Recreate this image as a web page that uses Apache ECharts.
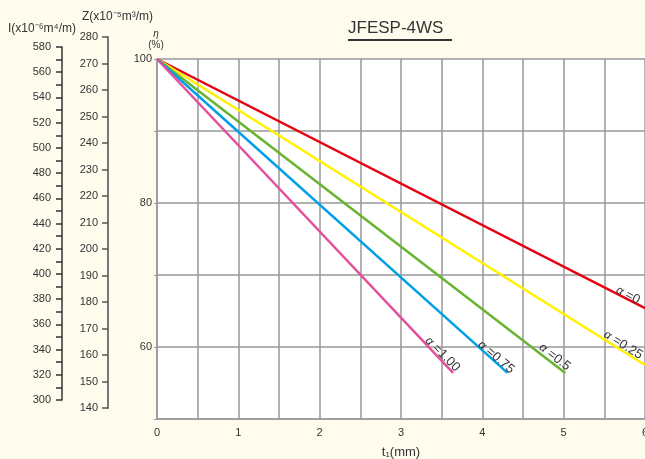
<!DOCTYPE html>
<html>
<head>
<meta charset="utf-8">
<script src="https://cdn.jsdelivr.net/npm/echarts@6/dist/echarts.min.js"></script>
<style>
  html, body { margin: 0; padding: 0; background: #fffcee; }
  #chart { width: 645px; height: 459px; }
</style>
</head>
<body>
<div id="chart"></div>
<script>
// 曲线数据 (t1 -> eta)
var seriesNames = ['0', '0.25', '0.5', '0.75', '1.00']
var seriesColors = ['#e60012', '#fff100', '#67b430', '#00a0e9', '#e4509b']
var startT = 0
var startEta = 100
var endT = [6, 6, 5.02, 4.31, 3.64]
var endEta = [65.4, 57.5, 56.4, 56.4, 56.4]
// 标注位置 (数据坐标) 和倾角
var labelT = [5.79, 5.73, 4.89, 4.17, 3.51]
var labelEta = [67.2, 60.3, 58.6, 58.6, 59.0]
var labelRotate = [-28, -32, -38, -41, -45]

var FONT = '"Liberation Sans Narrow", "Liberation Sans", sans-serif'
var chart = echarts.init(document.getElementById('chart'))

var series = seriesNames.map(function (name, i) {
  return {
    name: name,
    type: 'line',
    xAxisIndex: 0,
    yAxisIndex: 0,
    symbol: 'none',
    lineStyle: { color: seriesColors[i], width: 2.5 },
    data: [[startT, startEta], [endT[i], endEta[i]]],
    markPoint: {
      symbol: 'circle',
      symbolSize: 0,
      data: [{ coord: [labelT[i], labelEta[i]] }],
      label: {
        show: true,
        position: 'inside',
        rotate: labelRotate[i],
        formatter: '{a|α} =' + name,
        color: '#333',
        fontFamily: FONT,
        fontSize: 13,
        rich: { a: { fontStyle: 'italic', fontSize: 12, color: '#333', fontFamily: FONT } }
      }
    }
  }
})

chart.setOption({
  backgroundColor: '#fffcee',
  animation: false,
  grid: [
    { left: 157, top: 59, right: 0, bottom: 40, show: true, backgroundColor: '#ffffff', borderWidth: 0, outerBoundsMode: 'none', containLabel: false },
    { left: 62, top: 47, width: 1, height: 353, outerBoundsMode: 'none', containLabel: false },
    { left: 108, top: 37, width: 1, height: 371, outerBoundsMode: 'none', containLabel: false }
  ],
  xAxis: [
    {
      gridIndex: 0, type: 'value', min: 0, max: 6, interval: 0.5,
      axisLine: { show: true, lineStyle: { color: '#999', width: 1.5 } },
      axisTick: { show: false },
      splitLine: { show: true, lineStyle: { color: '#999', width: 1.5 } },
      axisLabel: {
        margin: 8, color: '#333', fontFamily: FONT, fontSize: 11,
        formatter: function (v) { return v % 1 === 0 ? String(v) : '' }
      },
      name: 't\u2081(mm)', nameLocation: 'middle', nameGap: 27,
      nameTextStyle: { color: '#333', fontFamily: FONT, fontSize: 13 }
    },
    { gridIndex: 1, type: 'value', show: false },
    { gridIndex: 2, type: 'value', show: false }
  ],
  yAxis: [
    {
      gridIndex: 0, type: 'value', min: 50, max: 100, interval: 10,
      axisLine: { show: true, lineStyle: { color: '#999', width: 1.5 } },
      axisTick: { show: true, length: 3, lineStyle: { color: '#999' } },
      splitLine: { show: true, lineStyle: { color: '#999', width: 1.5 } },
      axisLabel: {
        margin: 5, color: '#333', fontFamily: FONT, fontSize: 11,
        formatter: function (v) { return v % 20 === 0 ? String(v) : '' }
      }
    },
    {
      gridIndex: 1, type: 'value', min: 300, max: 580, interval: 20,
      axisLine: { show: true, lineStyle: { color: '#333', width: 1.5 } },
      axisTick: { show: true, length: 6, lineStyle: { color: '#333', width: 1.5 } },
      minorTick: { show: true, splitNumber: 2, length: 6, lineStyle: { color: '#333', width: 1.5 } },
      splitLine: { show: false },
      axisLabel: { margin: 11, color: '#333', fontFamily: FONT, fontSize: 11 }
    },
    {
      gridIndex: 2, type: 'value', min: 140, max: 280, interval: 10,
      axisLine: { show: true, lineStyle: { color: '#777', width: 2 } },
      axisTick: { show: true, length: 6, lineStyle: { color: '#555', width: 1.5 } },
      splitLine: { show: false },
      axisLabel: { margin: 10, color: '#333', fontFamily: FONT, fontSize: 11 }
    }
  ],
  graphic: [
    {
      type: 'text', left: 348, top: 20,
      style: { text: 'JFESP-4WS', fill: '#333', font: '17px "Liberation Sans", sans-serif' }
    },
    {
      type: 'line', shape: { x1: 348, y1: 40, x2: 452, y2: 40 },
      style: { stroke: '#333', lineWidth: 2 }
    },
    {
      type: 'text', left: 8, top: 23,
      style: { text: 'I(x10\u207B\u2076m\u2074/m)', fill: '#333', font: '12px ' + FONT }
    },
    {
      type: 'text', left: 82, top: 11,
      style: { text: 'Z(x10\u207B\u2075m\u00B3/m)', fill: '#333', font: '12px ' + FONT }
    },
    {
      type: 'text', x: 156, y: 34,
      style: { text: 'η', fill: '#333', font: 'italic 10px ' + FONT, align: 'center', verticalAlign: 'middle' }
    },
    {
      type: 'text', x: 156, y: 45,
      style: { text: '(%)', fill: '#333', font: '10px ' + FONT, align: 'center', verticalAlign: 'middle' }
    }
  ],
  series: series
})
</script>
</body>
</html>
